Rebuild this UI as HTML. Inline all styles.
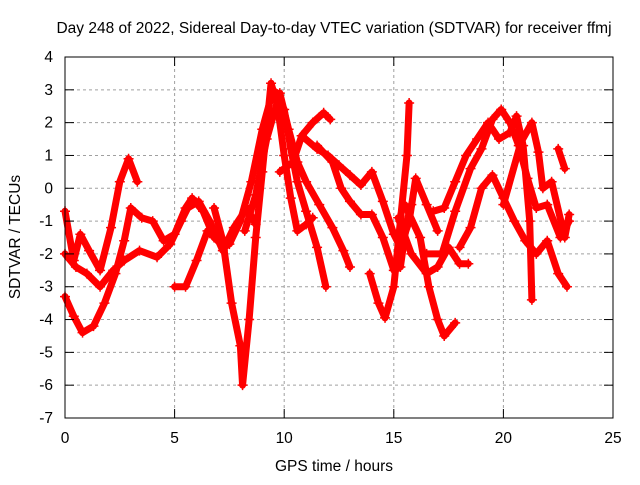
<!DOCTYPE html>
<html><head><meta charset="utf-8"><style>
body{margin:0;background:#fff;}
svg text{font-family:"Liberation Sans",sans-serif;font-size:15.5px;fill:#000;}
</style></head><body>
<svg id="chart" width="640" height="480">
<text x="334" y="33" text-anchor="middle">Day 248 of 2022, Sidereal Day-to-day VTEC variation (SDTVAR) for receiver ffmj</text>
<text x="334" y="471" text-anchor="middle">GPS time / hours</text>
<text transform="translate(20,237) rotate(-90)" text-anchor="middle">SDTVAR / TECUs</text>
<g id="grid"></g><g id="marks"></g>
<rect x="65" y="57" width="548" height="361" fill="none" stroke="#000" stroke-width="1"/>
<g id="ticks"></g>
</svg>
<script>
const xTicks=[0,5,10,15,20,25];
const yTicks=[4,3,2,1,0,-1,-2,-3,-4,-5,-6,-7];
const trackA=[[0,-0.7],[0.4,-2.2],[0.7,-1.4],[1.1,-1.9],[1.6,-2.5],[2.1,-1.2],[2.5,0.2],[2.9,0.9],[3.3,0.2]];
const trackB=[[0,-2.0],[0.5,-2.4],[1.0,-2.6],[1.6,-3.0],[2.2,-2.5],[2.7,-2.2],[3.4,-1.9],[4.2,-2.1],[4.8,-1.7],[5.3,-1.0],[5.6,-0.6],[6.1,-0.4],[6.6,-1.0],[7.2,-1.9],[7.7,-1.2],[8.3,-0.6],[8.7,-1.1]];
const trackC=[[0,-3.3],[0.4,-3.9],[0.8,-4.4],[1.3,-4.2],[1.8,-3.5],[2.3,-2.6],[2.7,-1.6],[3.0,-0.6],[3.5,-0.9],[4.0,-1.0],[4.5,-1.6],[5.0,-1.4],[5.5,-0.6],[5.8,-0.3],[6.3,-0.7],[6.8,-1.5],[7.3,-1.8],[7.8,-1.2]];
const trackD=[[6.8,-0.6],[7.2,-1.6],[7.6,-3.5],[8.0,-4.8],[8.1,-6.0],[8.4,-4.0],[8.7,-1.5],[9.0,0.5],[9.4,3.2],[9.7,2.5],[10.0,1.0],[10.3,-0.3],[10.6,-1.3],[11.0,-1.1],[11.3,-0.9]];
const trackE=[[5.0,-3.0],[5.5,-3.0],[6.0,-2.2],[6.5,-1.3],[7.0,-1.6],[7.5,-1.7],[8.0,-1.0],[8.5,0.2],[9.0,1.8],[9.5,3.0],[10,2.4],[10.3,1.2],[10.6,0.2],[11,-0.7],[11.5,-1.8],[11.9,-3.0]];
const trackF=[[8.2,-1.3],[8.7,-0.2],[9.2,1.5],[9.8,2.9],[10.2,1.8],[10.6,0.8],[11,0.2],[11.6,-0.5],[12.2,-1.2],[12.7,-1.9],[13.0,-2.4]];
const trackG=[[9.8,0.5],[10.4,0.8],[10.8,1.6],[11.3,2.0],[11.8,2.3],[12.1,2.1]];
const trackH=[[10.8,1.6],[11.5,1.2],[12,1.0],[12.5,0.7],[13,0.4],[13.5,0.1],[14,0.5],[14.5,-0.4],[15,-1.4],[15.3,-1.8],[15.7,-1.0],[16,0.3],[16.5,-0.5],[17,-1.3]];
const trackI=[[11.5,1.3],[12.2,0.8],[12.6,0.0],[13.0,-0.4],[13.5,-0.8],[14,-0.8],[14.5,-1.5],[15,-2.5],[15.3,-2.4],[15.6,-1.0],[15.8,-0.5]];
const trackJ=[[13.9,-2.6],[14.3,-3.5],[14.6,-3.95],[15.0,-3.0],[15.3,-1.0],[15.6,1.0],[15.7,2.6]];
const trackK=[[15.2,-0.9],[15.8,-2.0],[16.5,-2.6],[17.0,-2.4],[17.5,-1.8],[18,-2.3],[18.4,-2.3]];
const trackL=[[15.5,-0.5],[16.2,-1.5],[16.6,-3.0],[17.0,-4.0],[17.3,-4.5],[17.8,-4.1]];
const trackM=[[16.5,-2.0],[17.2,-2.0],[17.8,-0.7],[18.5,0.6],[19.0,1.2],[19.5,2.1],[19.9,2.4],[20.3,2.0],[20.7,1.3],[21.1,0.3],[21.5,-0.6],[22,-0.5],[22.6,-1.5],[23,-1.0]];
const trackN=[[16.8,-0.7],[17.3,-0.6],[17.8,0.2],[18.3,1.0],[18.8,1.5],[19.3,2.0],[19.8,1.5],[20.3,1.7],[20.6,2.2],[20.9,1.3],[21.2,-1.0],[21.3,-3.4]];
const trackO=[[18,-1.8],[18.5,-1.2],[19.0,0.0],[19.5,0.4],[20.0,-0.3],[20.5,-1.0],[21.0,-1.6],[21.5,-2.0],[22.0,-1.6],[22.5,-2.6],[22.9,-3.0]];
const trackP=[[20,-0.5],[20.8,1.4],[21.3,2.0],[21.6,1.1],[21.8,0.0],[22.2,0.2],[22.8,-1.5],[23,-0.8]];
const trackQ=[[22.5,1.2],[22.8,0.6]];
const tracks=[trackA,trackB,trackC,trackD,trackE,trackF,trackG,trackH,trackI,trackJ,trackK,trackL,trackM,trackN,trackO,trackP,trackQ];
const NS="http://www.w3.org/2000/svg";
function xs(h){return 65+h*(548/25);}
function ys(v){return 57+(4-v)*(361/11);}
const grid=document.getElementById('grid'),ticks=document.getElementById('ticks'),marks=document.getElementById('marks');
function mk(tag,attrs,parent){const e=document.createElementNS(NS,tag);for(const k in attrs)e.setAttribute(k,attrs[k]);parent.appendChild(e);return e;}
xTicks.forEach(t=>{
 const x=xs(t);
 if(t>0&&t<25){const g=mk('line',{x1:x,y1:57,x2:x,y2:418,stroke:'#a0a0a0','stroke-dasharray':'3,3'},grid);
 
 }
 mk('line',{x1:x,y1:418,x2:x,y2:409,stroke:'#000'},ticks);
 mk('line',{x1:x,y1:57,x2:x,y2:66,stroke:'#000'},ticks);
 const l=mk('text',{x:x,y:443,'text-anchor':'middle'},ticks);l.textContent=t;
 
 
});
yTicks.forEach(t=>{
 const y=ys(t);
 if(t<4&&t>-7){const g=mk('line',{x1:65,y1:y,x2:613,y2:y,stroke:'#a0a0a0','stroke-dasharray':'3,3'},grid);
 
 }
 mk('line',{x1:65,y1:y,x2:74,y2:y,stroke:'#000'},ticks);
 mk('line',{x1:613,y1:y,x2:604,y2:y,stroke:'#000'},ticks);
 const l=mk('text',{x:53,y:y+5,'text-anchor':'end'},ticks);l.textContent=t;
 
 
});
tracks.forEach((tr,i)=>{
 const pts=tr.map(p=>xs(p[0])+','+ys(p[1])).join(' ');
 const pl=mk('polyline',{points:pts,fill:'none',stroke:'#ff0000','stroke-width':7,'stroke-linejoin':'round','stroke-linecap':'round'},marks);
 
 
 tr.forEach(p=>{
  const x=xs(p[0]),y=ys(p[1]);
  const m=mk('path',{d:`M${x-5},${y}H${x+5}M${x},${y-5}V${y+5}`,stroke:'#ff0000','stroke-width':1.5},marks);
  
  
 });
});
</script>
</body></html>
